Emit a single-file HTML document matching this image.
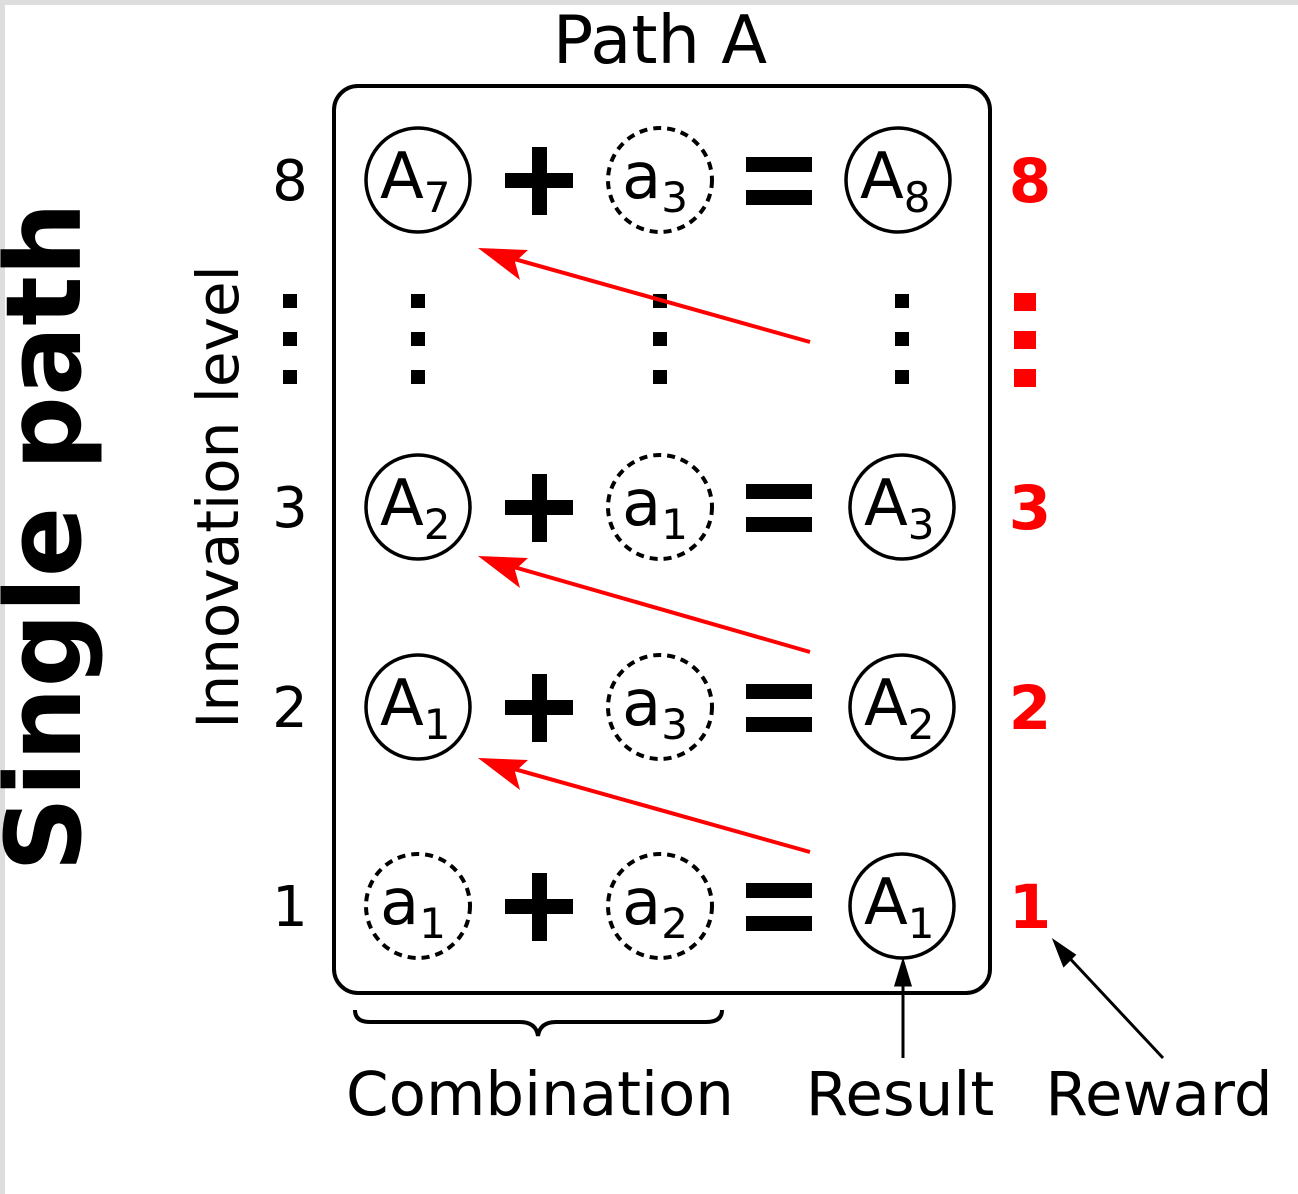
<!DOCTYPE html>
<html><head><meta charset="utf-8"><style>
html,body{margin:0;padding:0;background:#fff;}
svg{display:block;font-family:"DejaVu Sans","Liberation Sans",sans-serif;}
</style></head><body>
<svg width="1298" height="1194" viewBox="0 0 1298 1194">
<rect x="0" y="0" width="5" height="1194" fill="#ddd"/>
<rect x="0" y="0" width="1298" height="5" fill="#ddd"/>
<text x="660" y="63" font-size="67" text-anchor="middle">Path A</text>
<rect x="334" y="86" width="656" height="907" rx="24" fill="none" stroke="#000" stroke-width="4"/>
<text transform="translate(80,537) rotate(-90)" font-size="104" font-weight="bold" text-anchor="middle">Single path</text>
<text transform="translate(238,497) rotate(-90)" font-size="58" text-anchor="middle">Innovation level</text>
<g id="rows"></g>
<g fill="#000">
<rect x="283" y="294" width="14" height="14"/><rect x="283" y="332" width="14" height="14"/><rect x="283" y="370" width="14" height="14"/>
<rect x="411" y="294" width="14" height="14"/><rect x="411" y="332" width="14" height="14"/><rect x="411" y="370" width="14" height="14"/>
<rect x="653" y="294" width="14" height="14"/><rect x="653" y="332" width="14" height="14"/><rect x="653" y="370" width="14" height="14"/>
<rect x="895" y="294" width="14" height="14"/><rect x="895" y="332" width="14" height="14"/><rect x="895" y="370" width="14" height="14"/>
</g>
<g fill="#f00">
<rect x="1014" y="293" width="22" height="18"/><rect x="1014" y="331" width="22" height="18"/><rect x="1014" y="369" width="22" height="18"/>
</g>
<g stroke="#f00" stroke-width="4" fill="#f00">
<line x1="810" y1="342" x2="500" y2="255"/><path d="M478,248 L528,250 L515,262 L520,280 Z" stroke="none"/>
<line x1="810" y1="652" x2="500" y2="563"/><path d="M478,556 L528,558 L515,570 L520,588 Z" stroke="none"/>
<line x1="810" y1="852" x2="500" y2="765"/><path d="M478,758 L528,760 L515,772 L520,790 Z" stroke="none"/>
</g>
<path d="M355,1010 Q355,1022 370,1022 L520,1022 Q536,1022 538,1036 Q540,1022 556,1022 L706,1022 Q722,1022 722,1010" fill="none" stroke="#000" stroke-width="4"/>
<g stroke="#000" stroke-width="3" fill="#000">
<line x1="903" y1="1058" x2="903" y2="975"/><path d="M903,962 L896,985 L910,985 Z"/>
<line x1="1163" y1="1058" x2="1062" y2="950"/><path d="M1055,942 L1064,965 L1074,955 Z"/>
</g>
<text x="540" y="1115" font-size="61" text-anchor="middle">Combination</text>
<text x="900" y="1115" font-size="61" text-anchor="middle">Result</text>
<text x="1159" y="1115" font-size="61" text-anchor="middle">Reward</text>
<script>
const levels=["8","3","2","1"];
const rowY=[180,507,707,906];
const lefts=[["A","7",false],["A","2",false],["A","1",false],["a","1",true]];
const mids=[["a","3"],["a","1"],["a","3"],["a","2"]];
const results=[["A","8"],["A","3"],["A","2"],["A","1"]];
const g=document.getElementById('rows');
const NS="http://www.w3.org/2000/svg";
function mk(t,a,p){const e=document.createElementNS(NS,t);for(const k in a)e.setAttribute(k,a[k]);p.appendChild(e);return e;}
function node(cx,cy,letter,sub,dashed,name){
  const c=mk('circle',{cx:cx,cy:cy,r:52,fill:'none',stroke:'#000','stroke-width':dashed?4:3.5,'stroke-dasharray':dashed?'8 6':'none'},g);
  
  
  const t=mk('text',{x:cx-38,y:cy+18,'font-size':64},g);
  
  
  t.textContent=letter;
  const s=mk('tspan',{'font-size':42,dy:14},t);s.textContent=sub;
}
levels.forEach((lv,i)=>{
  const y=rowY[i];
  const l=mk('text',{x:290,y:y+20,'font-size':56,'text-anchor':'middle'},g);
  
  
  l.textContent=lv;
  node(418,y,lefts[i][0],lefts[i][1],lefts[i][2],'left-node-'+lv);
  const p=mk('path',{d:`M${505},${y-7}h68v15h-68z M${532},${y-33}h15v68h-15z`,fill:'#000'},g);
  
  
  node(660,y,mids[i][0],mids[i][1],true,'mid-node-'+lv);
  const e=mk('path',{d:`M${746},${y-23}h66v15h-66z M${746},${y+10}h66v15h-66z`,fill:'#000'},g);
  
  
  node(i==0?898:902,y,results[i][0],results[i][1],false,'result-node-'+lv);
  const r=mk('text',{x:1030,y:y+22,'font-size':61,'font-weight':'bold',fill:'#f00','text-anchor':'middle'},g);
  
  
  r.textContent=lv;
});
</script>
</svg>
</body></html>
